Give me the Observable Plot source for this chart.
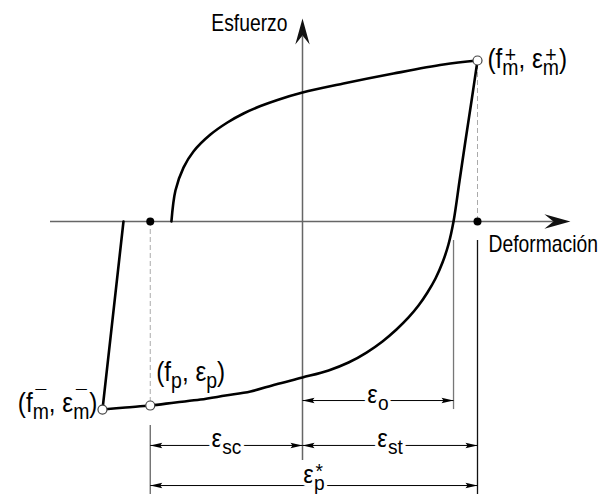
<!DOCTYPE html>
<html>
<head>
<meta charset="utf-8">
<script src="https://cdn.jsdelivr.net/npm/d3@7"></script>
<script src="https://cdn.jsdelivr.net/npm/@observablehq/plot@0.6"></script>
<style>
  html, body { margin: 0; padding: 0; background: #fff; }
</style>
</head>
<body>
<div id="chart"></div>
<script>
// ---------------- DATA (strain normalised by εm+, stress normalised by fm+) ----------------
// Reloading branch (from zero stress on the compressive side up to the peak point)
const upperStrain = [-0.749, -0.726, -0.680, -0.623, -0.526, -0.429, -0.337, -0.240, -0.143, 0, 0.234, 0.520, 0.806, 1];
const upperStress = [0, 0.193, 0.335, 0.435, 0.540, 0.615, 0.671, 0.717, 0.755, 0.801, 0.857, 0.919, 0.975, 1];
// Unloading branch (from (fm+, εm+) down to (fm-, εm-))
const unloadStrain = [1, 0.966, 0.931, 0.897, 0.863, 0.834, 0.800, 0.760, 0.714, 0.663, 0.606, 0.537, 0.457, 0.366, 0.263, 0.149, 0, -0.154, -0.297, -0.440, -0.583, -0.726, -0.870, -1.011, -1.143];
const unloadStress = [1, 0.75, 0.5, 0.25, 0, -0.143, -0.255, -0.354, -0.441, -0.522, -0.596, -0.671, -0.745, -0.814, -0.876, -0.925, -0.969, -1.012, -1.056, -1.081, -1.106, -1.124, -1.143, -1.155, -1.168];
// Straight branch from (fm-, εm-) up to zero stress
const reloadStrain = [-1.143, -1.023];
const reloadStress = [-1.168, 0];

// Marked points
const pointLabels = ["(f_{m}^{+}, ε_{m}^{+})", "(f_{p}, ε_{p})", "(f_{m}^{¯}, ε_{m}^{¯})"];
const pointStrain = [1, -0.87, -1.143];
const pointStress = [1, -1.143, -1.168];
// Points marked on the strain axis
const axisDotStrain = [-0.87, 1];

// Axis titles
const axisLabels = ["Esfuerzo", "Deformación"];

// Dimensions
const dimLabels = ["ε_{o}", "ε_{sc}", "ε_{st}", "ε_{p}^{*}"];
const dimFrom = [0, -0.87, 0, -0.87];
const dimTo = [0.863, 0, 1, 1];

// ---------------- LAYOUT (data units) ----------------
const dimRow = [-1.112, -1.391, -1.391, -1.640];
const dimLabelLift = [0.035, 0.041, 0.041, 0.066];
const axisXStart = -1.44, axisXTip = 1.531, axisXNotch = 1.434;
const axisYTip = 1.261, axisYNotch = 1.149, axisYBottom = -1.484;
const extLines = [
  {x: -0.87, y1: -1.267, y2: -1.75, c: "#666"},
  {x: 1, y1: -0.118, y2: -1.75, c: "#111"},
  {x: 0.863, y1: -0.118, y2: -1.168, c: "#777"}
];

const FONT = "'Liberation Sans', Arial, Helvetica, sans-serif";

// ---------------- BUILD ----------------
const curves = [
  ...upperStrain.map((x, i) => ({x, y: upperStress[i], s: "a"})),
  ...unloadStrain.map((x, i) => ({x, y: unloadStress[i], s: "b"})),
  ...reloadStrain.map((x, i) => ({x, y: reloadStress[i], s: "c"}))
];
const points = pointLabels.map((t, i) => ({t, x: pointStrain[i], y: pointStress[i]}));
const dims = dimLabels.map((t, i) => ({t, x1: dimFrom[i], x2: dimTo[i], y: dimRow[i], ly: dimRow[i] + dimLabelLift[i]}));
const dimHeads = dims.flatMap(d => [{x: d.x1, y: d.y, r: 180}, {x: d.x2, y: d.y, r: 0}]);

const axisHead = {draw(ctx) { ctx.moveTo(0, 0); ctx.lineTo(-26, -7.2); ctx.lineTo(-17, 0); ctx.lineTo(-26, 7.2); ctx.closePath(); }};
const dimHead = {draw(ctx) { ctx.moveTo(0, 0); ctx.lineTo(-12, -2.7); ctx.lineTo(-10, 0); ctx.lineTo(-12, 2.7); ctx.closePath(); }};

// horizontal squeeze per text (the reference font is condensed)
const squeeze = new Map([
  ...axisLabels.map(t => [t, 0.84]),
  ...pointLabels.map(t => [t, 0.9]),
  ...dimLabels.map(t => [t, 0.92])
]);

const chart = Plot.plot({
  width: 599,
  height: 494,
  margin: 0,
  x: {domain: [-302 / 175, 297 / 175], range: [0, 599], axis: null},
  y: {domain: [-273 / 161, 221 / 161], range: [494, 0], axis: null},
  style: {fontFamily: FONT, background: "#fff", color: "#000"},
  marks: [
    // axes
    Plot.ruleY([0], {x1: axisXStart, x2: axisXNotch, stroke: "#666", strokeWidth: 1.5}),
    Plot.ruleX([0], {y1: axisYBottom, y2: axisYNotch, stroke: "#666", strokeWidth: 1.5}),
    Plot.dot([{x: axisXTip, y: 0, r: 0}, {x: 0, y: axisYTip, r: -90}], {x: "x", y: "y", rotate: "r", symbol: axisHead, fill: "#111", stroke: "none"}),
    // extension lines
    Plot.ruleX(extLines, {x: "x", y1: "y1", y2: "y2", stroke: "c", strokeWidth: 1.3}),
    // dashed projections
    Plot.ruleX([1, 0], {x: i => pointStrain[i], y1: 0, y2: i => pointStress[i], stroke: "#aaa", strokeWidth: 1, strokeDasharray: "5,3"}),
    // hysteresis curves
    Plot.line(curves, {x: "x", y: "y", z: "s", curve: "catmull-rom", stroke: "#000", strokeWidth: 2.6}),
    // dimension lines
    Plot.link(dims, {x1: "x1", x2: "x2", y1: "y", y2: "y", stroke: "#000", strokeWidth: 1}),
    Plot.dot(dimHeads, {x: "x", y: "y", rotate: "r", symbol: dimHead, fill: "#000", stroke: "none"}),
    Plot.text(dims, {x: d => (d.x1 + d.x2) / 2, y: "ly", text: "t", fontSize: 26, fill: "#000", stroke: "#fff", strokeWidth: 7, textAnchor: "middle"}),
    // dots on strain axis
    Plot.dot(axisDotStrain, {x: d => d, y: 0, r: 4, fill: "#000", stroke: "none"}),
    // open circles
    Plot.dot(points, {x: "x", y: "y", r: 4.5, fill: "#fff", stroke: "#444", strokeWidth: 1.2}),
    // point labels
    Plot.text(points.slice(0, 1), {x: "x", y: "y", text: "t", fontSize: 27, textAnchor: "start", dx: 10, dy: -1, fill: "#000"}),
    Plot.text(points.slice(1, 2), {x: "x", y: "y", text: "t", fontSize: 27, textAnchor: "start", dx: 6, dy: -33, fill: "#000"}),
    Plot.text(points.slice(2, 3), {x: "x", y: "y", text: "t", fontSize: 27, textAnchor: "end", dx: -5, dy: -6, fill: "#000"}),
    // axis titles
    Plot.text([axisLabels[0]], {x: 0, y: axisYTip, text: d => d, fontSize: 23, textAnchor: "end", dx: -15, dy: 5, fill: "#000"}),
    Plot.text([axisLabels[1]], {x: axisDotStrain[1], y: 0, text: d => d, fontSize: 23, textAnchor: "start", dx: 11, dy: 23, fill: "#000"})
  ]
});

document.getElementById("chart").append(chart);

// ---------- rich text: subscripts / stacked superscripts, condensed glyphs ----------
function richText(svg) {
  const NS = "http://www.w3.org/2000/svg";
  svg.querySelectorAll("text").forEach(el => {
    const t = el.textContent;
    const sx = squeeze.get(t);
    if (sx) {
      const x = el.getAttribute("x");
      let tr = el.getAttribute("transform") || "";
      if (x && !/em$/.test(x)) { tr += ` translate(${x},0)`; el.removeAttribute("x"); }
      el.setAttribute("transform", `${tr} scale(${sx},1)`.trim());
    }
    if (!/[_^]\{/.test(t)) return;
    const inner = el.querySelector("tspan");
    if (inner && inner.getAttribute("y")) el.setAttribute("y", inner.getAttribute("y"));
    const fs = parseFloat(getComputedStyle(el).fontSize);
    const tokens = t.match(/_\{[^}]*\}|\^\{[^}]*\}|[^_^]+/g);
    el.textContent = "";
    let level = 0, prev = null, pending = 0;
    for (const tok of tokens) {
      let type = "n", s = tok;
      if (tok[0] === "_") { type = "sub"; s = tok.slice(2, -1); }
      else if (tok[0] === "^") { type = "sup"; s = tok.slice(2, -1); }
      const ts = document.createElementNS(NS, "tspan");
      ts.textContent = s;
      if (type !== "n") ts.setAttribute("font-size", (fs * 0.8).toFixed(2));
      const target = type === "sub" ? fs * 0.25 : type === "sup" ? -fs * 0.22 : 0;
      if (target !== level) { ts.setAttribute("dy", (target - level).toFixed(2)); level = target; }
      el.appendChild(ts);
      const w = ts.getComputedTextLength();
      let dx = pending; pending = 0;
      if (type === "sup" && prev && prev.type === "sub") {
        dx += -(prev.w + w) / 2;
        pending = Math.max(0, (prev.w - w) / 2);
      }
      if (dx) ts.setAttribute("dx", dx.toFixed(2));
      prev = {w, type};
    }
  });
}
richText(chart);
</script>
</body>
</html>
